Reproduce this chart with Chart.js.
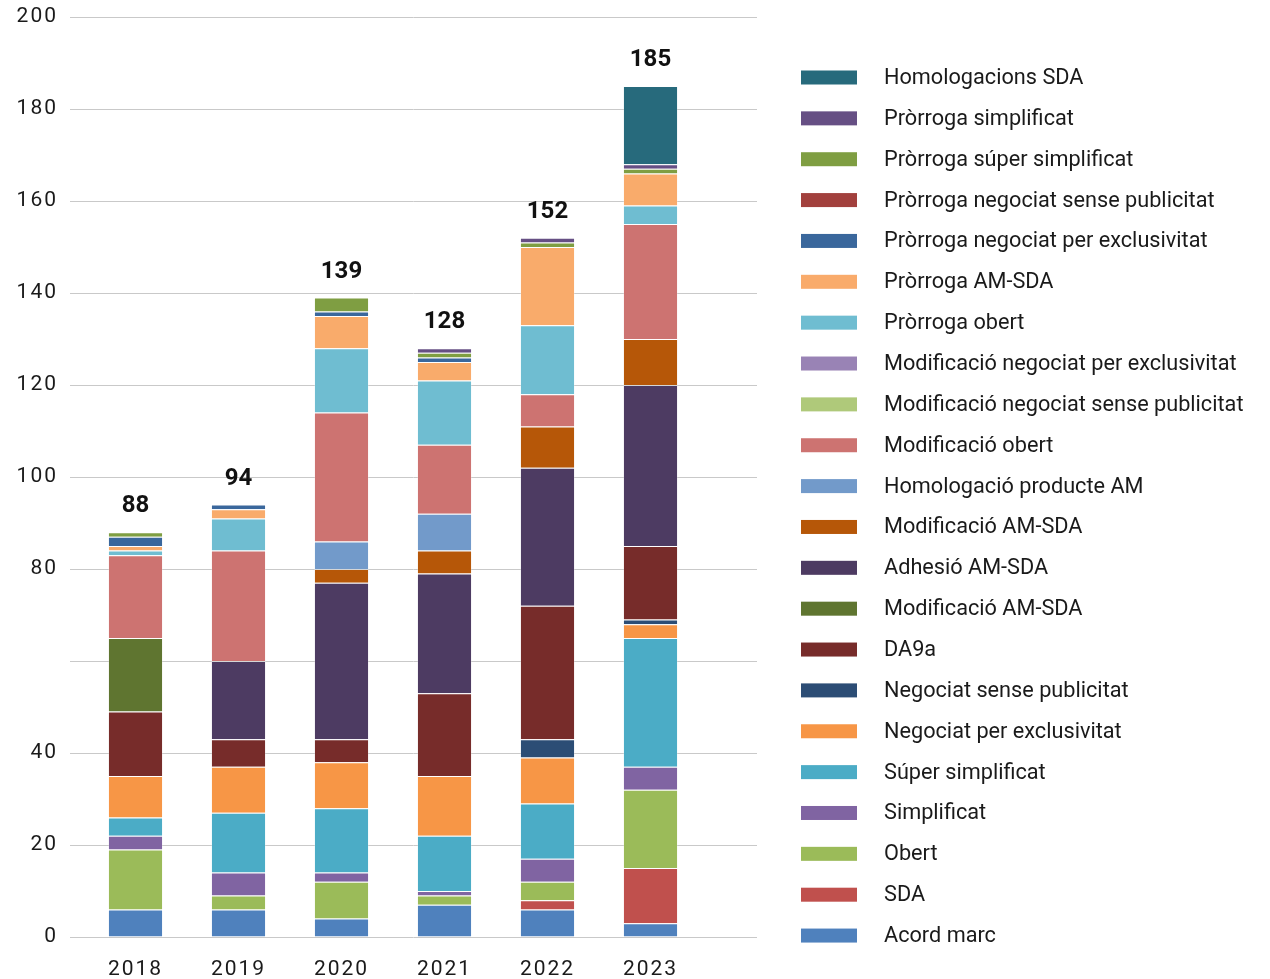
<!DOCTYPE html>
<html>
<head>
    <title>Expedients per tipus i any</title>
    <meta charset="utf-8">
    <style>
        html, body {
            margin: 0;
            padding: 0;
            background-color: #fff;
        }

        .chart-box {
            width: 1270px;
            height: 979px;
            position: relative;
        }
    </style>
</head>
<body>
    <div class="chart-box">
        <canvas id="stack-chart"></canvas>
    </div>

    <script src="https://cdn.jsdelivr.net/npm/chart.js"></script>
    <script>
        // Years on the x axis
        const years = ["2018", "2019", "2020", "2021", "2022", "2023"];

        // One array per series, stacked from the bottom up
        const acordMarc          = [6, 6, 4, 7, 6, 3];
        const sda                = [0, 0, 0, 0, 2, 12];
        const obert              = [13, 3, 8, 2, 4, 17];
        const simplificat        = [3, 5, 2, 1, 5, 5];
        const superSimplificat   = [4, 13, 14, 12, 12, 28];
        const negExclusivitat    = [9, 10, 10, 13, 10, 3];
        const negSensePub        = [0, 0, 0, 0, 4, 1];
        const da9a               = [14, 6, 5, 18, 29, 16];
        const modifAmSdaGreen    = [16, 0, 0, 0, 0, 0];
        const adhesioAmSda       = [0, 17, 34, 26, 30, 35];
        const modifAmSdaOrange   = [0, 0, 3, 5, 9, 10];
        const homologProducte    = [0, 0, 6, 8, 0, 0];
        const modifObert         = [18, 24, 28, 15, 7, 25];
        const modifNegSensePub   = [0, 0, 0, 0, 0, 0];
        const modifNegExcl       = [0, 0, 0, 0, 0, 0];
        const prorrogaObert      = [1, 7, 14, 14, 15, 4];
        const prorrogaAmSda      = [1, 2, 7, 4, 17, 7];
        const prorrogaNegExcl    = [2, 1, 1, 1, 0, 0];
        const prorrogaNegSense   = [0, 0, 0, 0, 0, 0];
        const prorrogaSuper      = [1, 0, 3, 1, 1, 1];
        const prorrogaSimpl      = [0, 0, 0, 1, 1, 1];
        const homologacionsSda   = [0, 0, 0, 0, 0, 17];

        // Y axis ticks (the 60 label is left blank, as in the original)
        const yTicks = [0, 20, 40, 60, 80, 100, 120, 140, 160, 180, 200];
        const hiddenTick = 60;

        const series = [
            ["Acord marc", acordMarc, "#4f81bd"],
            ["SDA", sda, "#c0504d"],
            ["Obert", obert, "#9bbb59"],
            ["Simplificat", simplificat, "#8064a2"],
            ["Súper simplificat", superSimplificat, "#4bacc6"],
            ["Negociat per exclusivitat", negExclusivitat, "#f79646"],
            ["Negociat sense publicitat", negSensePub, "#2c4d75"],
            ["DA9a", da9a, "#772c2a"],
            ["Modificació AM-SDA", modifAmSdaGreen, "#5f7530"],
            ["Adhesió AM-SDA", adhesioAmSda, "#4d3b62"],
            ["Modificació AM-SDA", modifAmSdaOrange, "#b65708"],
            ["Homologació producte AM", homologProducte, "#729aca"],
            ["Modificació obert", modifObert, "#cd7371"],
            ["Modificació negociat sense publicitat", modifNegSensePub, "#afc97a"],
            ["Modificació negociat per exclusivitat", modifNegExcl, "#9983b5"],
            ["Pròrroga obert", prorrogaObert, "#6fbdd1"],
            ["Pròrroga AM-SDA", prorrogaAmSda, "#f9ab6b"],
            ["Pròrroga negociat per exclusivitat", prorrogaNegExcl, "#3a679c"],
            ["Pròrroga negociat sense publicitat", prorrogaNegSense, "#a2403d"],
            ["Pròrroga súper simplificat", prorrogaSuper, "#7f9e42"],
            ["Pròrroga simplificat", prorrogaSimpl, "#664f84"],
            ["Homologacions SDA", homologacionsSda, "#276a7c"],
        ];

        const datasets = series.map(([label, data, color]) => ({
            label: label,
            data: data,
            backgroundColor: color,
            borderColor: "rgba(255,255,255,0.25)",
            borderWidth: 1,
            categoryPercentage: 1,
            barPercentage: 0.535,
        }));

        // grid lines run a bit past the bars on both sides
        const gridPlugin = {
            id: "wideGrid",
            beforeDraw(chart) {
                chart.ctx.letterSpacing = "2px";
            },
            beforeDatasetsDraw(chart) {
                const ctx = chart.ctx;
                const y = chart.scales.y;
                ctx.save();
                ctx.strokeStyle = "#c9c9c9";
                ctx.lineWidth = 1;
                yTicks.forEach(v => {
                    const py = Math.round(y.getPixelForValue(v)) + 0.5;
                    ctx.beginPath();
                    ctx.moveTo(70, py);
                    ctx.lineTo(757, py);
                    ctx.stroke();
                });
                ctx.restore();
            },
            afterDatasetsDraw(chart) {
                const ctx = chart.ctx;
                ctx.letterSpacing = "0px";
                const x = chart.scales.x;
                const y = chart.scales.y;
                ctx.save();
                ctx.font = "bold 24px Roboto";
                ctx.fillStyle = "#111";
                ctx.textAlign = "center";
                ctx.textBaseline = "alphabetic";
                years.forEach((yr, i) => {
                    const total = series.reduce((s, d) => s + d[1][i], 0);
                    ctx.fillText(total, x.getPixelForValue(i), y.getPixelForValue(total) - 20);
                });
                ctx.restore();
            },
            afterDraw(chart) {
                // legend, top item = top of the stack
                const ctx = chart.ctx;
                ctx.save();
                ctx.letterSpacing = "0px";
                ctx.font = "21.7px Roboto";
                ctx.textBaseline = "middle";
                ctx.textAlign = "left";
                const items = chart.data.datasets.slice().reverse();
                items.forEach((ds, i) => {
                    const cy = 77.5 + i * 40.86;
                    ctx.fillStyle = ds.backgroundColor;
                    ctx.fillRect(801, cy - 7, 56, 14);
                    ctx.fillStyle = "#1a1a1a";
                    ctx.fillText(ds.label, 884, cy + 1);
                });
                ctx.restore();
            },
        };

        const ctx = document.getElementById("stack-chart").getContext("2d");
        new Chart(ctx, {
            type: "bar",
            data: {
                labels: years,
                datasets: datasets,
            },
            plugins: [gridPlugin],
            options: {
                responsive: true,
                maintainAspectRatio: false,
                animation: false,
                layout: {
                    padding: { top: 17, right: 568, left: 0, bottom: 0 },
                },
                plugins: {
                    legend: { display: false },
                    tooltip: { enabled: false },
                },
                scales: {
                    x: {
                        stacked: true,
                        grid: { display: false, drawTicks: false },
                        border: { display: false },
                        ticks: {
                            autoSkip: false,
                            maxRotation: 0,
                            padding: 20,
                            color: "#1a1a1a",
                            font: { family: "Roboto", size: 21 },
                        },
                        afterFit(scale) { scale.height = 42; },
                    },
                    y: {
                        stacked: true,
                        min: 0,
                        max: 200,
                        grid: {
                            display: true,
                            drawOnChartArea: false,
                            drawTicks: true,
                            tickLength: 26,
                            color: "rgba(0,0,0,0)",
                        },
                        border: { display: false },
                        ticks: {
                            stepSize: 20,
                            padding: 0,
                            color: "#1a1a1a",
                            font: { family: "Roboto", size: 21 },
                            callback: v => (v === hiddenTick ? "" : v),
                        },
                        afterFit(scale) { scale.width = 84; },
                    },
                },
            },
        });
    </script>
</body>
</html>
